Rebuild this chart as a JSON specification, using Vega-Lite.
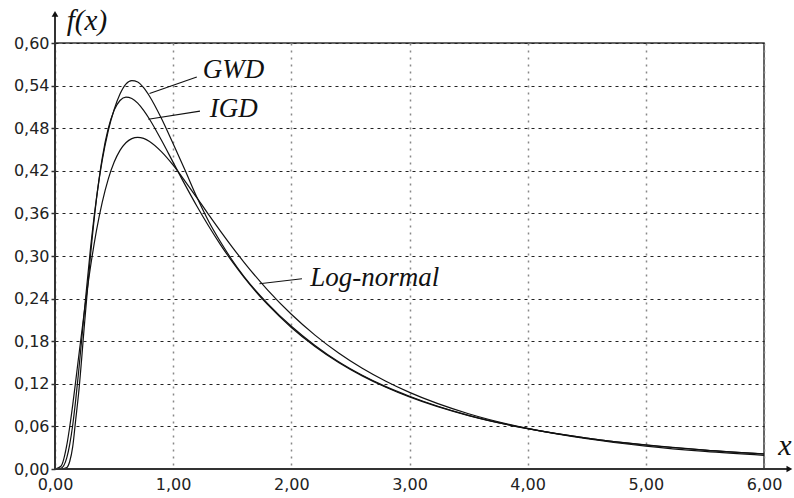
{
  "$schema": "https://vega.github.io/schema/vega-lite/v6.json",
  "width": 709,
  "height": 426,
  "autosize": "none",
  "padding": {"left": 55, "top": 43, "right": 30, "bottom": 29},
  "background": "white",
  "view": {"stroke": "#333", "strokeWidth": 1.5},
  "config": {
    "axis": {"labelFont": "DejaVu Sans", "labelFontSize": 16, "labelColor": "#222", "title": null}
  },
  "datasets": {
    "curves": [
      {"s":"IGD","x":0,"y":0},{"s":"IGD","x":0.05,"y":0},{"s":"IGD","x":0.1,"y":0.0021},{"s":"IGD","x":0.125,"y":0.0109},{"s":"IGD","x":0.15,"y":0.0314},{"s":"IGD","x":0.175,"y":0.0692},{"s":"IGD","x":0.2,"y":0.1066},{"s":"IGD","x":0.25,"y":0.2049},{"s":"IGD","x":0.3,"y":0.3001},{"s":"IGD","x":0.35,"y":0.379},{"s":"IGD","x":0.4,"y":0.4382},{"s":"IGD","x":0.45,"y":0.4792},{"s":"IGD","x":0.5,"y":0.5051},{"s":"IGD","x":0.55,"y":0.519},{"s":"IGD","x":0.6,"y":0.5238},{"s":"IGD","x":0.65,"y":0.5219},{"s":"IGD","x":0.7,"y":0.5153},{"s":"IGD","x":0.75,"y":0.5051},{"s":"IGD","x":0.8,"y":0.4926},{"s":"IGD","x":0.9,"y":0.4633},{"s":"IGD","x":1.0,"y":0.4319},{"s":"IGD","x":1.1,"y":0.4005},{"s":"IGD","x":1.2,"y":0.3704},{"s":"IGD","x":1.3,"y":0.3422},{"s":"IGD","x":1.4,"y":0.316},{"s":"IGD","x":1.5,"y":0.292},{"s":"IGD","x":1.6,"y":0.2699},{"s":"IGD","x":1.8,"y":0.2314},{"s":"IGD","x":2.0,"y":0.1994},{"s":"IGD","x":2.2,"y":0.1726},{"s":"IGD","x":2.4,"y":0.1501},{"s":"IGD","x":2.6,"y":0.1312},{"s":"IGD","x":2.8,"y":0.1152},{"s":"IGD","x":3.0,"y":0.1015},{"s":"IGD","x":3.5,"y":0.0752},{"s":"IGD","x":4.0,"y":0.0568},{"s":"IGD","x":4.5,"y":0.0435},{"s":"IGD","x":5.0,"y":0.0338},{"s":"IGD","x":5.5,"y":0.0266},{"s":"IGD","x":6.0,"y":0.0211},
      {"s":"LN","x":0,"y":0},{"s":"LN","x":0.05,"y":0.0038},{"s":"LN","x":0.1,"y":0.0339},{"s":"LN","x":0.125,"y":0.0599},{"s":"LN","x":0.15,"y":0.0903},{"s":"LN","x":0.175,"y":0.1235},{"s":"LN","x":0.2,"y":0.1577},{"s":"LN","x":0.25,"y":0.2242},{"s":"LN","x":0.3,"y":0.2842},{"s":"LN","x":0.35,"y":0.335},{"s":"LN","x":0.4,"y":0.376},{"s":"LN","x":0.45,"y":0.408},{"s":"LN","x":0.5,"y":0.4319},{"s":"LN","x":0.55,"y":0.4487},{"s":"LN","x":0.6,"y":0.4595},{"s":"LN","x":0.65,"y":0.4653},{"s":"LN","x":0.7,"y":0.4671},{"s":"LN","x":0.75,"y":0.4656},{"s":"LN","x":0.8,"y":0.4614},{"s":"LN","x":0.9,"y":0.4471},{"s":"LN","x":1.0,"y":0.428},{"s":"LN","x":1.1,"y":0.4056},{"s":"LN","x":1.2,"y":0.3821},{"s":"LN","x":1.3,"y":0.3584},{"s":"LN","x":1.4,"y":0.3351},{"s":"LN","x":1.5,"y":0.3126},{"s":"LN","x":1.6,"y":0.2911},{"s":"LN","x":1.8,"y":0.252},{"s":"LN","x":2.0,"y":0.218},{"s":"LN","x":2.2,"y":0.1886},{"s":"LN","x":2.4,"y":0.1634},{"s":"LN","x":2.6,"y":0.1419},{"s":"LN","x":2.8,"y":0.1236},{"s":"LN","x":3.0,"y":0.1079},{"s":"LN","x":3.5,"y":0.0778},{"s":"LN","x":4.0,"y":0.0571},{"s":"LN","x":4.5,"y":0.0426},{"s":"LN","x":5.0,"y":0.0322},{"s":"LN","x":5.5,"y":0.0247},{"s":"LN","x":6.0,"y":0.0192},
      {"s":"GWD","x":0,"y":0},{"s":"GWD","x":0.05,"y":0.001},{"s":"GWD","x":0.1,"y":0.016},{"s":"GWD","x":0.125,"y":0.035},{"s":"GWD","x":0.15,"y":0.062},{"s":"GWD","x":0.175,"y":0.097},{"s":"GWD","x":0.2,"y":0.137},{"s":"GWD","x":0.25,"y":0.225},{"s":"GWD","x":0.3,"y":0.31},{"s":"GWD","x":0.35,"y":0.38},{"s":"GWD","x":0.4,"y":0.435},{"s":"GWD","x":0.45,"y":0.476},{"s":"GWD","x":0.5,"y":0.506},{"s":"GWD","x":0.55,"y":0.528},{"s":"GWD","x":0.6,"y":0.542},{"s":"GWD","x":0.65,"y":0.547},{"s":"GWD","x":0.7,"y":0.545},{"s":"GWD","x":0.75,"y":0.537},{"s":"GWD","x":0.8,"y":0.525},{"s":"GWD","x":0.9,"y":0.494},{"s":"GWD","x":1.0,"y":0.458},{"s":"GWD","x":1.1,"y":0.421},{"s":"GWD","x":1.2,"y":0.383},{"s":"GWD","x":1.3,"y":0.349},{"s":"GWD","x":1.4,"y":0.32},{"s":"GWD","x":1.5,"y":0.294},{"s":"GWD","x":1.6,"y":0.271},{"s":"GWD","x":1.8,"y":0.233},{"s":"GWD","x":2.0,"y":0.201},{"s":"GWD","x":2.2,"y":0.174},{"s":"GWD","x":2.4,"y":0.151},{"s":"GWD","x":2.6,"y":0.132},{"s":"GWD","x":2.8,"y":0.116},{"s":"GWD","x":3.0,"y":0.1025},{"s":"GWD","x":3.5,"y":0.0755},{"s":"GWD","x":4.0,"y":0.0568},{"s":"GWD","x":4.5,"y":0.0436},{"s":"GWD","x":5.0,"y":0.0339},{"s":"GWD","x":5.5,"y":0.0267},{"s":"GWD","x":6.0,"y":0.0212}
    ],
    "leaders": [
      {"x":0.80,"y":0.529,"x2":1.20,"y2":0.552},
      {"x":0.79,"y":0.4925,"x2":1.227,"y2":0.504},
      {"x":1.73,"y":0.261,"x2":2.09,"y2":0.268}
    ],
    "labels": [
      {"x":1.25,"y":0.551,"t":"GWD","size":27},
      {"x":1.31,"y":0.496,"t":"IGD","size":27},
      {"x":2.16,"y":0.258,"t":"Log-normal","size":27},
      {"x":0.10,"y":0.618,"t":"f(x)","size":29},
      {"x":6.12,"y":0.0197,"t":"x","size":30}
    ],
    "axes": [
      {"x":0,"y":0,"x2":0,"y2":0.64},
      {"x":0,"y":0,"x2":6.2,"y2":0}
    ],
    "arrows": [
      {"x":0,"y":0.641,"shape":"triangle-up"},
      {"x":6.215,"y":0,"shape":"triangle-right"}
    ]
  },
  "layer": [
    {
      "data": {"name": "curves"},
      "mark": {"type": "line", "interpolate": "monotone", "color": "#111", "strokeWidth": 1.2},
      "encoding": {
        "x": {
          "field": "x", "type": "quantitative",
          "scale": {"domain": [0, 6], "nice": false, "zero": false},
          "axis": {
            "values": [0, 1, 2, 3, 4, 5, 6],
            "labelExpr": "replace(format(datum.value, '.2f'), '.', ',')",
            "labelFlush": false, "labelOverlap": false,
            "domain": false, "ticks": false, "labelPadding": 7,
            "grid": true, "gridColor": "#888", "gridDash": [2, 5], "gridWidth": 1.5
          }
        },
        "y": {
          "field": "y", "type": "quantitative",
          "scale": {"domain": [0, 0.6], "nice": false, "zero": false},
          "axis": {
            "values": [0, 0.06, 0.12, 0.18, 0.24, 0.3, 0.36, 0.42, 0.48, 0.54, 0.6],
            "labelExpr": "replace(format(datum.value, '.2f'), '.', ',')",
            "labelFlush": false, "labelOverlap": false,
            "domain": false, "ticks": true, "tickSize": 4, "tickColor": "#333", "tickWidth": 1.5, "labelPadding": 2,
            "grid": true, "gridColor": "#222", "gridDash": [3, 4], "gridWidth": 1
          }
        },
        "detail": {"field": "s"}
      }
    },
    {
      "data": {"name": "leaders"},
      "mark": {"type": "rule", "color": "#111", "strokeWidth": 1.1},
      "encoding": {
        "x": {"field": "x", "type": "quantitative"},
        "y": {"field": "y", "type": "quantitative"},
        "x2": {"field": "x2"},
        "y2": {"field": "y2"}
      }
    },
    {
      "data": {"name": "axes"},
      "mark": {"type": "rule", "color": "#333", "strokeWidth": 2, "clip": false},
      "encoding": {
        "x": {"field": "x", "type": "quantitative"},
        "y": {"field": "y", "type": "quantitative"},
        "x2": {"field": "x2"},
        "y2": {"field": "y2"}
      }
    },
    {
      "data": {"name": "arrows"},
      "mark": {"type": "point", "filled": true, "color": "#111", "opacity": 1, "size": 45, "clip": false},
      "encoding": {
        "x": {"field": "x", "type": "quantitative"},
        "y": {"field": "y", "type": "quantitative"},
        "shape": {"field": "shape", "type": "nominal", "scale": null}
      }
    },
    {
      "data": {"name": "labels"},
      "mark": {"type": "text", "font": "Liberation Serif", "fontStyle": "italic", "align": "left", "baseline": "alphabetic", "color": "#111", "clip": false},
      "encoding": {
        "x": {"field": "x", "type": "quantitative"},
        "y": {"field": "y", "type": "quantitative"},
        "text": {"field": "t"},
        "size": {"field": "size", "type": "quantitative", "scale": null}
      }
    }
  ]
}
